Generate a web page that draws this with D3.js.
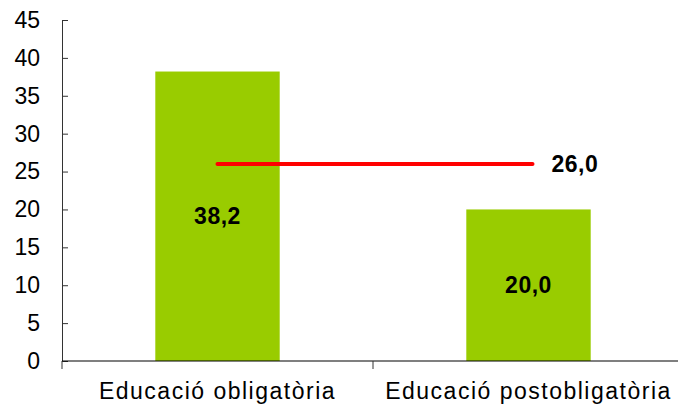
<!DOCTYPE html>
<html>
<head>
<meta charset="utf-8">
<script src="https://cdn.jsdelivr.net/npm/d3@7"></script>
<style>
  body { margin: 0; background: #fff; }
  text { font-family: "Liberation Sans", Arial, sans-serif; fill: #000; }
</style>
</head>
<body>
<div id="chart"></div>
<script>
const categories = ["Educació obligatòria", "Educació postobligatòria"];
const values = [38.2, 20.0];
const average = 26.0;
const yTicks = [0, 5, 10, 15, 20, 25, 30, 35, 40, 45];

// Dimensions
const width = 678;
const height = 407;
const margin = { top: 20, right: -6, bottom: 46, left: 62 };

const svg = d3.select("#chart")
  .append("svg")
    .attr("width", width)
    .attr("height", height);

const xScale = d3.scaleBand()
  .domain(categories)
  .range([margin.left, width - margin.right])
  .padding(0);
const yScale = d3.scaleLinear()
  .domain([0, 45])
  .range([height - margin.bottom, margin.top]);

const fmt = v => d3.format(".1f")(v).replace(".", ",");
const barWidth = xScale.bandwidth() * 0.4;

// Bars
svg.append("g")
  .selectAll("rect")
  .data(values)
  .join("rect")
    .attr("x", (d, i) => xScale(categories[i]) + xScale.bandwidth() / 2 - barWidth / 2)
    .attr("y", d => yScale(d))
    .attr("width", barWidth)
    .attr("height", d => yScale(0) - yScale(d))
    .attr("fill", "#99cc00");

// Y axis
const leftAxis = d3.axisLeft(yScale)
  .tickValues(yTicks)
  .tickSizeInner(-6)
  .tickSizeOuter(0)
  .tickPadding(22);
const yAxis = svg.append("g")
  .attr("transform", `translate(${margin.left},0)`)
  .call(leftAxis);
yAxis.select(".domain").attr("stroke", "#333");
yAxis.selectAll(".tick line").attr("stroke", "#333");
yAxis.selectAll(".tick text")
  .style("font-size", "23px")
  .attr("fill", "#000");

// X axis
svg.append("line")
  .attr("x1", xScale.range()[0])
  .attr("x2", xScale.range()[1])
  .attr("y1", yScale(0))
  .attr("y2", yScale(0))
  .attr("stroke", "#000")
  .attr("stroke-width", 1.2);
const bounds = categories.map(c => xScale(c)).concat([xScale.range()[1]]);
svg.append("g")
  .selectAll("line")
  .data(bounds)
  .join("line")
    .attr("x1", d => d)
    .attr("x2", d => d)
    .attr("y1", yScale(0))
    .attr("y2", yScale(0) + 8)
    .attr("stroke", "#333");
svg.append("g")
  .selectAll("text")
  .data(categories)
  .join("text")
    .attr("x", d => xScale(d) + xScale.bandwidth() / 2)
    .attr("y", yScale(0) + 38)
    .attr("text-anchor", "middle")
    .style("font-size", "23px")
    .style("letter-spacing", "1.5px")
    .text(d => d);

// Value labels
svg.append("g")
  .selectAll("text")
  .data(values)
  .join("text")
    .attr("x", (d, i) => xScale(categories[i]) + xScale.bandwidth() / 2)
    .attr("y", d => (yScale(d) + yScale(0)) / 2)
    .attr("dy", "0.35em")
    .attr("text-anchor", "middle")
    .style("font-size", "23px")
    .style("font-weight", "bold")
    .style("letter-spacing", "0.5px")
    .text(d => fmt(d));

// Average line
const x1 = xScale(categories[0]) + xScale.bandwidth() / 2;
const x2 = xScale(categories[1]) + xScale.bandwidth() / 2 + 4;
svg.append("line")
  .attr("x1", x1)
  .attr("x2", x2)
  .attr("y1", yScale(average))
  .attr("y2", yScale(average))
  .attr("stroke", "#ff0000")
  .attr("stroke-width", 4)
  .attr("stroke-linecap", "round");
svg.append("text")
  .attr("x", x2 + 19)
  .attr("y", yScale(average))
  .attr("dy", "0.35em")
  .style("font-size", "23px")
  .style("font-weight", "bold")
  .style("letter-spacing", "0.5px")
  .text(fmt(average));
</script>
</body>
</html>
